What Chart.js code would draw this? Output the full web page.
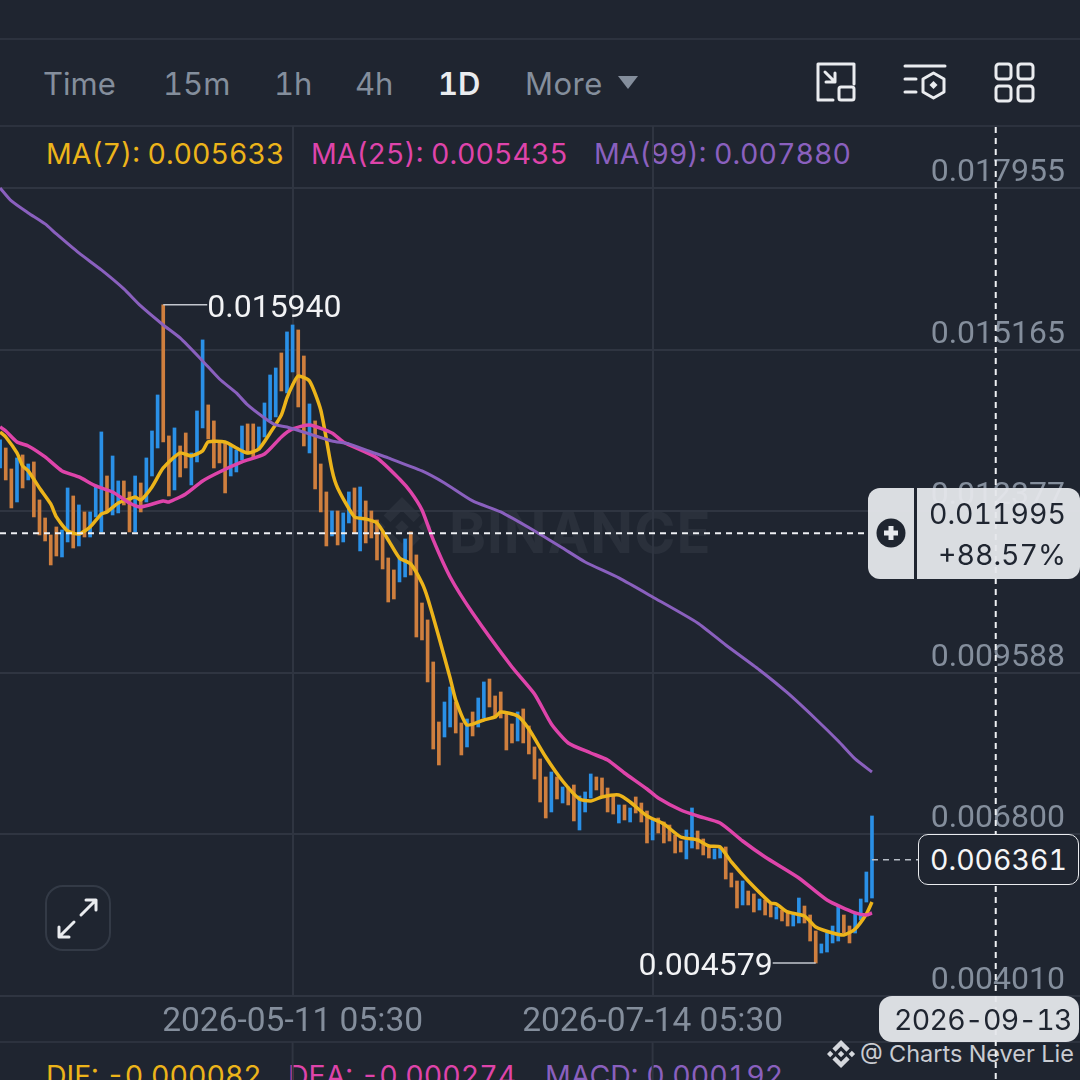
<!DOCTYPE html>
<html>
<head>
<meta charset="utf-8">
<title>MA chart</title>
<script src="https://cdn.jsdelivr.net/npm/chart.js@4"></script>
<style>
  html, body { margin: 0; width: 1080px; height: 1080px; overflow: hidden; background: #1f2530; }
  body { position: relative; font-family: Inter, "Noto Sans", sans-serif; font-variant-numeric: tabular-nums; }
  #priceChart { position: absolute; left: 0; top: 0; z-index: 1; }
  .t { position: absolute; white-space: nowrap; line-height: 40px; font-size: 28.5px; }
  .rule { position: absolute; left: 0; width: 1080px; height: 2px; background: #2c323e; }
  .tab { color: #848e9c; top: 64px; font-size: 31px; }
  .under { z-index: 0; }
  .over { z-index: 2; }
  .pill { position: absolute; z-index: 2; box-sizing: border-box; }
  svg.layer { position: absolute; left: 0; top: 0; }
</style>
</head>
<body>
<div class="rule" style="top:38px"></div>
<div class="rule" style="top:125px"></div>
<div class="rule" style="top:1041px"></div>

<div class="t tab" style="left:43px">Time</div>
<div class="t tab" style="left:163px">15m</div>
<div class="t tab" style="left:274px">1h</div>
<div class="t tab" style="left:355px">4h</div>
<div class="t tab" style="left:438px;color:#eaecef;font-weight:600">1D</div>
<div class="t tab" style="left:525px;letter-spacing:.5px">More</div>

<div class="t" style="left:46px;top:134px;color:#ecb41a">MA(7): 0.005633</div>
<div class="t" style="left:311px;top:134px;color:#de44aa">MA(25): 0.005435</div>
<div class="t" style="left:594px;top:134px;color:#8a60be">MA(99): 0.007880</div>

<!-- watermark sits under the canvas -->
<div class="t under" style="left:449px;top:513px;font-size:56px;font-weight:700;color:#2a303b;letter-spacing:1px">BINANCE</div>
<svg class="layer under" width="1080" height="1080">
  <path transform="translate(372,497) scale(2.5)" fill="#2a303b" d="M16.624 13.9202l2.7175 2.7154-7.353 7.353-7.353-7.352 2.7175-2.7164 4.6355 4.6595 4.6356-4.6595zm4.6366-4.6366L24 12l-2.7154 2.7164L18.5682 12l2.6924-2.7164zm-9.272.001l2.7163 2.6914-2.7164 2.7174v-.001L9.2721 12l2.7164-2.7154zm-9.2722-.001L5.4088 12l-2.6914 2.6924L0 12l2.7164-2.7164zM11.9885.0115l7.353 7.329-2.7174 2.7154-4.6356-4.6356-4.6355 4.6595-2.7174-2.7154 7.353-7.353z"/>
  <path transform="translate(827,1040) scale(1.17)" fill="#d5d8dd" d="M16.624 13.9202l2.7175 2.7154-7.353 7.353-7.353-7.352 2.7175-2.7164 4.6355 4.6595 4.6356-4.6595zm4.6366-4.6366L24 12l-2.7154 2.7164L18.5682 12l2.6924-2.7164zm-9.272.001l2.7163 2.6914-2.7164 2.7174v-.001L9.2721 12l2.7164-2.7154zm-9.2722-.001L5.4088 12l-2.6914 2.6924L0 12l2.7164-2.7164zM11.9885.0115l7.353 7.329-2.7174 2.7154-4.6356-4.6356-4.6355 4.6595-2.7174-2.7154 7.353-7.353z"/>
</svg>
<div class="t under" style="left:860px;top:1034px;font-size:23.5px;color:#c9ccd2">@ Charts Never Lie</div>

<div class="t" style="left:46px;top:1056px;color:#ecb41a">DIF: -0.000082</div>
<div class="t" style="left:288px;top:1056px;color:#de44aa">DEA: -0.000274</div>
<div class="t" style="left:545px;top:1056px;color:#8a60be">MACD: 0.000192</div>

<canvas id="priceChart" width="1080" height="1080"></canvas>

<!-- header icons, expand button, pill plus sign -->
<svg class="layer" width="1080" height="1080" style="z-index:3" fill="none" stroke="#eaecef" stroke-width="3" stroke-linecap="round" stroke-linejoin="round">
  <path d="M833 100H818V64H854V84"/>
  <rect x="839" y="87" width="15" height="13" rx="2"/>
  <path d="M825 72L835 82M835 73V82H826"/>
  <path d="M905 66H945M905 79H916M905 92H916"/>
  <path d="M933.5 73L944 79V92L933.5 98L923 92V79Z"/>
  <path d="M933.5 81L937.5 85L933.5 89L929.5 85Z" fill="#eaecef" stroke="none"/>
  <rect x="996" y="64" width="15" height="15" rx="3"/>
  <rect x="1018" y="64" width="15" height="15" rx="3"/>
  <rect x="996" y="86" width="15" height="15" rx="3"/>
  <rect x="1018" y="86" width="15" height="15" rx="3"/>
  <path d="M618 76H638L628 89Z" fill="#848e9c" stroke="none"/>
  <rect x="46" y="886" width="64" height="64" rx="17" stroke="#333a46" stroke-width="2"/>
  <path d="M81 915L96 900M86 900H96V910M74 922L59 937M59 927V937H69"/>
  <circle cx="891" cy="533" r="14.5" fill="#1f2530" stroke="none"/>
  <path d="M891 526V540M884 533H898" stroke="#e6e8ec" stroke-width="5" stroke-linecap="butt"/>
</svg>

<div class="pill" style="left:868px;top:488px;width:212px;height:91px;border-radius:12px;background:rgba(229,231,235,.95)"></div>
<div class="pill" style="left:914px;top:488px;width:3px;height:91px;background:#1f2530"></div>
<div class="t over" style="right:14px;top:494px;color:#1f2530">0.011995</div>
<div class="t over" style="right:14px;top:535px;color:#1f2530">+88.57%</div>

<div class="pill" style="left:918px;top:834px;width:161px;height:51px;border-radius:10px;border:1.5px solid #eaecef;background:#1f2530"></div>
<div class="t over" style="left:930px;top:840px;color:#f5f6f7">0.006361</div>

<div class="pill" style="left:879px;top:996px;width:200px;height:46px;border-radius:13px;background:rgba(229,231,235,.95)"></div>
<div class="t over" style="left:894px;top:1000px;color:#1f2530;letter-spacing:-.7px">2026-09-13</div>

<script>
// Candles, oldest first. The x value is the candle number.
const directions = ("uddududddd" + "duududuuud" + "uudduduuud" + "dudduuuddd" + "duuudduuuu" +
  "duuddudddu" + "duududdddd" + "duuddddddu" + "udduduuddd" + "ddudddddud" +
  "udduuudddd" + "ududdduddd" + "dduuddduud" + "ddudduddud" + "duuddduuuu" + "dduuuu").split("");

const highs = [
  0.013607, 0.013468, 0.013106, 0.013296, 0.013348, 0.013192, 0.013227, 0.012571, 0.012260, 0.011967,
  0.012105, 0.012053, 0.012778, 0.012640, 0.012485, 0.012364, 0.012364, 0.012830, 0.013745, 0.012985,
  0.013330, 0.012899, 0.012899, 0.012709, 0.012985, 0.012864, 0.013296, 0.013762, 0.014383, 0.015940,
  0.013676, 0.013814, 0.013503, 0.013727, 0.013382, 0.014107, 0.015333, 0.014211, 0.013935, 0.013572,
  0.013572, 0.013520, 0.013434, 0.013848, 0.013883, 0.013883, 0.013831, 0.014245, 0.014728, 0.014849,
  0.015108, 0.015471, 0.015591, 0.015505, 0.015056, 0.014228, 0.013935, 0.013192, 0.012709, 0.012381,
  0.012381, 0.012347, 0.012709, 0.012778, 0.012795, 0.012554, 0.012381, 0.012226, 0.012019, 0.011570,
  0.011363, 0.011570, 0.011898, 0.012019, 0.011622, 0.010793, 0.010500, 0.009775, 0.008739, 0.009084,
  0.009343, 0.009084, 0.008722, 0.008791, 0.008912, 0.009153, 0.009430, 0.009481, 0.009188, 0.009257,
  0.008912, 0.008705, 0.008912, 0.008964, 0.008670, 0.008308, 0.008101, 0.007790, 0.007876, 0.007790,
  0.007617, 0.007617, 0.007652, 0.007462, 0.007531, 0.007842, 0.007790, 0.007773, 0.007600, 0.007479,
  0.007307, 0.007307, 0.007255, 0.007445, 0.007341, 0.007203, 0.007048, 0.007082, 0.007013, 0.006961,
  0.006789, 0.006685, 0.006875, 0.007255, 0.006858, 0.006720, 0.006582, 0.006547, 0.006582, 0.006582,
  0.006133, 0.005995, 0.005995, 0.005822, 0.005771, 0.005684, 0.005667, 0.005598, 0.005546, 0.005494,
  0.005443, 0.005425, 0.005701, 0.005563, 0.005408, 0.005132, 0.004908, 0.005097, 0.005218, 0.005563,
  0.005408, 0.005218, 0.005443, 0.005684, 0.006150, 0.007117
];

const lows = [
  0.013123, 0.012916, 0.012433, 0.012536, 0.012778, 0.012916, 0.012278, 0.011967, 0.011863, 0.011449,
  0.011604, 0.011587, 0.011846, 0.011742, 0.011777, 0.011932, 0.011932, 0.012278, 0.012019, 0.012364,
  0.012312, 0.012347, 0.012485, 0.012019, 0.012019, 0.012364, 0.012536, 0.012985, 0.013468, 0.013572,
  0.012640, 0.012744, 0.012968, 0.013123, 0.012830, 0.013227, 0.013814, 0.013624, 0.013123, 0.013210,
  0.012692, 0.012985, 0.013054, 0.013261, 0.013365, 0.013313, 0.013434, 0.013658, 0.013952, 0.014004,
  0.014452, 0.014418, 0.014780, 0.014176, 0.013503, 0.013382, 0.012761, 0.012364, 0.011777, 0.011950,
  0.011794, 0.011846, 0.012174, 0.011991, 0.011691, 0.011829, 0.011915, 0.011535, 0.011380, 0.010810,
  0.010862, 0.011156, 0.011242, 0.011276, 0.010206, 0.010155, 0.009430, 0.008273, 0.007997, 0.008480,
  0.008653, 0.008549, 0.008170, 0.008308, 0.008498, 0.008653, 0.008808, 0.008998, 0.008808, 0.008808,
  0.008256, 0.008377, 0.008411, 0.008377, 0.008187, 0.007755, 0.007358, 0.007082, 0.007186, 0.007410,
  0.007341, 0.007307, 0.007031, 0.006875, 0.007186, 0.007427, 0.007566, 0.007445, 0.007186, 0.007151,
  0.006996, 0.007048, 0.007013, 0.007169, 0.007013, 0.006651, 0.006703, 0.006823, 0.006651, 0.006685,
  0.006478, 0.006495, 0.006375, 0.006564, 0.006547, 0.006444, 0.006392, 0.006375, 0.006392, 0.006029,
  0.005891, 0.005529, 0.005581, 0.005581, 0.005460, 0.005494, 0.005408, 0.005374, 0.005339, 0.005305,
  0.005218, 0.005218, 0.005270, 0.005270, 0.004959, 0.004579, 0.004752, 0.004769, 0.004925, 0.004959,
  0.005097, 0.004925, 0.005097, 0.005322, 0.005632, 0.005701
];

// Moving averages at the candles in the *Index arrays
const ma7Index = [0, 1, 3, 4, 5, 7, 9, 10, 12, 14, 16, 18, 19, 21, 23, 24, 25, 27, 29, 32, 34, 36, 37, 40, 42, 44,
  46, 48, 50, 51, 52, 53, 55, 57, 59, 60, 63, 65, 67, 69, 71, 73, 75, 76, 78, 80, 81, 83, 86, 88, 89, 92, 94, 97,
  100, 103, 105, 107, 110, 112, 115, 118, 121, 124, 126, 128, 130, 133, 137, 138, 140, 143, 145, 148, 150, 152, 154, 155];
const ma7Values = [0.013745, 0.013658, 0.013382, 0.013158, 0.013072, 0.012778, 0.012502, 0.012278, 0.012036, 0.011984,
  0.012105, 0.012329, 0.012364, 0.012519, 0.012588, 0.012623, 0.012571, 0.012795, 0.013123, 0.013382, 0.013330, 0.013417,
  0.013572, 0.013572, 0.013468, 0.013382, 0.013451, 0.013727, 0.014038, 0.014331, 0.014556, 0.014711, 0.014625, 0.014124,
  0.013089, 0.012778, 0.012278, 0.012243, 0.012174, 0.011881, 0.011570, 0.011466, 0.011138, 0.010879, 0.010206, 0.009499,
  0.009119, 0.008687, 0.008774, 0.008826, 0.008912, 0.008843, 0.008618, 0.008135, 0.007721, 0.007410, 0.007376, 0.007445,
  0.007479, 0.007358, 0.007117, 0.006979, 0.006754, 0.006703, 0.006599, 0.006582, 0.006323, 0.005995, 0.005615, 0.005598,
  0.005460, 0.005391, 0.005201, 0.005097, 0.005063, 0.005166, 0.005425, 0.005632];

const ma25Index = [0, 1, 3, 5, 8, 11, 14, 17, 20, 23, 25, 29, 30, 33, 36, 39, 43, 47, 50, 52, 55, 59, 61, 67, 71, 73,
  75, 77, 80, 84, 91, 95, 98, 101, 105, 108, 111, 115, 117, 121, 124, 128, 132, 136, 142, 147, 152, 154, 155];
const ma25Values = [0.013831, 0.013762, 0.013572, 0.013503, 0.013313, 0.013072, 0.012968, 0.012813, 0.012709, 0.012519,
  0.012450, 0.012554, 0.012536, 0.012675, 0.012899, 0.013054, 0.013227, 0.013365, 0.013658, 0.013796, 0.013865, 0.013727,
  0.013572, 0.013296, 0.012933, 0.012709, 0.012398, 0.011881, 0.011242, 0.010621, 0.009689, 0.009223, 0.008705, 0.008377,
  0.008204, 0.008083, 0.007859, 0.007583, 0.007427, 0.007220, 0.007117, 0.006996, 0.006685, 0.006409, 0.006047, 0.005667,
  0.005443, 0.005408, 0.005443];

const ma99Index = [0, 2, 5, 8, 10, 14, 18, 22, 25, 29, 32, 36, 39, 42, 44, 47, 49, 51, 55, 59, 62, 66, 69, 75, 79, 84,
  89, 95, 100, 104, 110, 116, 124, 129, 135, 140, 145, 149, 152, 155];
const ma99Values = [0.017956, 0.017732, 0.017525, 0.017335, 0.017162, 0.016834, 0.016541, 0.016213, 0.015919, 0.015591,
  0.015367, 0.014970, 0.014659, 0.014418, 0.014211, 0.013986, 0.013865, 0.013831, 0.013710, 0.013589, 0.013538, 0.013399,
  0.013296, 0.013072, 0.012864, 0.012554, 0.012364, 0.012036, 0.011742, 0.011501, 0.011225, 0.010897, 0.010448, 0.010068,
  0.009637, 0.009240, 0.008791, 0.008411, 0.008101, 0.007876];

// Axis ticks
const priceTicks = [0.004010, 0.006800, 0.009588, 0.012377, 0.015165, 0.017955];
const timeTicks = [52, 116];
const timeLabels = ["2026-05-11 05:30", "2026-07-14 05:30"];

// Marked values
const highLabel = { index: 29, price: 0.015940 };
const lowLabel = { index: 145, price: 0.004579 };
const lastPrice = 0.006361;
const crossIndex = 177;
const crossPrice = 0.011995;

const UP = "#2a90e6";
const DOWN = "#cf7f3e";
const GRID = "#2f3541";
const CANVAS_FONT = "Roboto";

const toPoints = (xs, ys) => xs.map((x, i) => ({ x: x, y: ys[i] }));

const maLine = (label, xs, ys, color, width) => ({
  type: "line",
  label: label,
  data: toPoints(xs, ys),
  borderColor: color,
  borderWidth: width,
  pointRadius: 0,
  tension: 0.2
});

const overlayPlugin = {
  id: "overlay",
  afterDraw(chart) {
    const { ctx, scales: { x, y } } = chart;
    ctx.save();

    // grid of the lower pane under the date strip
    ctx.strokeStyle = GRID;
    ctx.lineWidth = 2;
    timeTicks.forEach(t => {
      ctx.beginPath();
      ctx.moveTo(x.getPixelForValue(t), 1042);
      ctx.lineTo(x.getPixelForValue(t), 1080);
      ctx.stroke();
    });

    // crosshair
    ctx.strokeStyle = "#eef0f3";
    ctx.lineWidth = 2;
    ctx.setLineDash([6, 5]);
    ctx.beginPath();
    ctx.moveTo(0, y.getPixelForValue(crossPrice));
    ctx.lineTo(868, y.getPixelForValue(crossPrice));
    ctx.moveTo(x.getPixelForValue(crossIndex), 127);
    ctx.lineTo(x.getPixelForValue(crossIndex), 1080);
    ctx.stroke();

    // dashes from the last candle to the price box
    ctx.strokeStyle = "#b7bdc6";
    ctx.lineWidth = 1.5;
    ctx.beginPath();
    ctx.moveTo(x.getPixelForValue(155), y.getPixelForValue(lastPrice));
    ctx.lineTo(918, y.getPixelForValue(lastPrice));
    ctx.stroke();
    ctx.setLineDash([]);

    // high and low marks
    ctx.font = "32px " + CANVAS_FONT;
    ctx.textBaseline = "middle";
    ctx.fillStyle = "#f2f3f5";
    ctx.strokeStyle = "#c3c7ce";
    ctx.lineWidth = 1.5;

    const hx = x.getPixelForValue(highLabel.index), hy = y.getPixelForValue(highLabel.price);
    ctx.beginPath();
    ctx.moveTo(hx, hy);
    ctx.lineTo(hx + 44, hy);
    ctx.stroke();
    ctx.textAlign = "left";
    ctx.fillText(highLabel.price.toFixed(6), hx + 44, hy + 4);

    const lx = x.getPixelForValue(lowLabel.index), ly = y.getPixelForValue(lowLabel.price);
    ctx.beginPath();
    ctx.moveTo(lx, ly);
    ctx.lineTo(lx - 43, ly);
    ctx.stroke();
    ctx.textAlign = "right";
    ctx.fillText(lowLabel.price.toFixed(6), lx - 43, ly + 4);

    ctx.restore();
  }
};

new Chart(document.getElementById("priceChart"), {
  type: "bar",
  data: {
    datasets: [
      maLine("MA(99)", ma99Index, ma99Values, "#8a60be", 3),
      maLine("MA(25)", ma25Index, ma25Values, "#de44aa", 3.5),
      maLine("MA(7)", ma7Index, ma7Values, "#ecb41a", 3.5),
      {
        type: "bar",
        label: "Candles",
        data: highs.map((h, i) => ({ x: i, y: [lows[i], h] })),
        backgroundColor: directions.map(d => (d === "u" ? UP : DOWN)),
        barThickness: 3,
        order: 10
      }
    ]
  },
  options: {
    responsive: false,
    animation: false,
    layout: { padding: { top: 126, bottom: 38, left: 0, right: 0 } },
    plugins: { legend: { display: false }, tooltip: { enabled: false } },
    scales: {
      x: {
        type: "linear",
        offset: false,
        min: -0.02,
        max: 191.98,
        afterBuildTicks: scale => { scale.ticks = timeTicks.map(v => ({ value: v })); },
        afterFit: scale => { scale.height = 46; },
        grid: { color: GRID, lineWidth: 2, drawTicks: false, offset: false },
        border: { display: false },
        ticks: {
          autoSkip: false,
          maxRotation: 0,
          padding: 7,
          color: "#848e9c",
          font: { family: CANVAS_FONT, size: 33.5 },
          callback: value => timeLabels[timeTicks.indexOf(value)]
        }
      },
      y: {
        position: "right",
        min: 0.00401,
        max: 0.019025,
        afterBuildTicks: scale => { scale.ticks = priceTicks.map(v => ({ value: v })); },
        afterFit: scale => { scale.width = 0; },
        grid: { color: GRID, lineWidth: 2, drawTicks: false },
        border: { display: false },
        ticks: {
          mirror: true,
          autoSkip: false,
          padding: -15,
          labelOffset: -15,
          color: "#848e9c",
          font: { family: CANVAS_FONT, size: 32 },
          callback: value => value.toFixed(6)
        }
      }
    }
  },
  plugins: [overlayPlugin]
});
</script>
</body>
</html>
